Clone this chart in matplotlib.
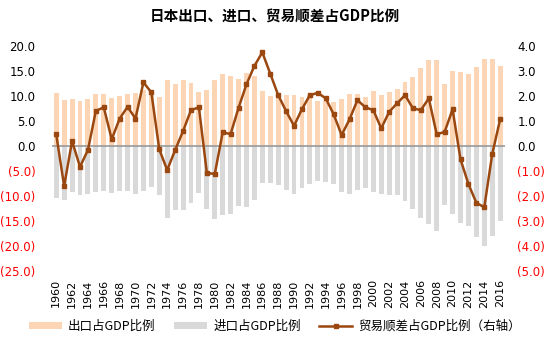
import matplotlib
matplotlib.use("Agg")
import matplotlib.pyplot as plt
import numpy as np
from matplotlib.lines import Line2D
from matplotlib.patches import Patch

plt.rcParams['font.family'] = ['Noto Sans CJK SC', 'DejaVu Sans']

years = list(range(1960, 2017))

# 出口占GDP比例 (%)
exports = [10.7, 9.2, 9.4, 9.0, 9.5, 10.5, 10.5, 9.7, 10.1, 10.5,
           10.6, 11.2, 10.3, 9.9, 13.2, 12.5, 13.2, 12.7, 10.8, 11.2,
           13.3, 14.4, 14.1, 13.5, 14.7, 14.0, 11.1, 10.0, 10.1, 10.2,
           10.2, 9.8, 10.2, 9.0, 9.1, 8.9, 9.4, 10.4, 10.5, 9.9,
           11.0, 10.2, 10.9, 11.5, 12.9, 13.9, 15.7, 17.3, 17.3, 12.4,
           15.0, 14.9, 14.5, 15.8, 17.5, 17.5, 16.0]

# 进口占GDP比例 (%), 负值
imports = [-10.3, -10.8, -9.1, -9.8, -9.6, -9.1, -8.9, -9.3, -8.9, -8.9,
           -9.5, -8.9, -8.1, -9.8, -14.3, -12.7, -12.7, -11.3, -9.3, -12.5,
           -14.5, -13.8, -13.6, -12.0, -12.1, -10.8, -7.3, -7.3, -7.7, -8.8,
           -9.5, -8.3, -7.6, -6.9, -7.1, -7.6, -9.1, -9.5, -8.7, -8.3,
           -9.1, -9.6, -9.8, -9.8, -10.9, -12.5, -14.3, -15.5, -16.9, -11.8,
           -13.5, -15.3, -16.0, -18.1, -20.0, -17.9, -15.0]

# 贸易顺差占GDP比例 (%), 右轴
balance = [0.47, -1.6, 0.2, -0.83, -0.16, 1.41, 1.55, 0.27, 1.1, 1.57,
           1.1, 2.55, 2.15, -0.13, -0.96, -0.16, 0.6, 1.44, 1.55, -1.07,
           -1.12, 0.55, 0.48, 1.53, 2.47, 3.21, 3.75, 2.9, 2.04, 1.4,
           0.81, 1.48, 2.04, 2.13, 1.91, 1.27, 0.44, 1.07, 1.84, 1.55,
           1.44, 0.71, 1.37, 1.71, 2.04, 1.51, 1.44, 1.91, 0.47, 0.57,
           1.47, -0.53, -1.52, -2.27, -2.45, -0.32, 1.07]

orange = '#FCD5B5'
grey = '#D9D9D9'
brown = '#9A4710'

fig = plt.figure(figsize=(5.5, 3.47), dpi=100)
ax = fig.add_axes([0.095, 0.219, 0.823, 0.648])
x = np.arange(len(years))

ax.bar(x, exports, width=0.62, color=orange, zorder=2)
ax.bar(x, imports, width=0.62, color=grey, zorder=2)
ax.axhline(0, color='#999999', lw=1.2, zorder=3)
ax.set_ylim(-25, 20)
ax.set_xlim(-0.5, len(years) - 0.4)

ax2 = ax.twinx()
ax2.plot(x, balance, color=brown, lw=1.8, marker='s', ms=3.5, zorder=5)
ax2.set_ylim(-5, 4)
ax2.set_position(ax.get_position())

def fmt(v):
    if v < 0:
        return '(%.1f)' % abs(v)
    return '%.1f' % v

lt = np.arange(-25, 21, 5)
ax.set_yticks(lt)
ax.set_yticklabels([fmt(v) for v in lt], family='DejaVu Sans', fontsize=8.5)
for t, v in zip(ax.get_yticklabels(), lt):
    t.set_color('#FF0000' if v < 0 else 'black')

rt = np.arange(-5, 5, 1)
ax2.set_yticks(rt)
ax2.set_yticklabels([fmt(v) for v in rt], family='DejaVu Sans', fontsize=8.5)
for t, v in zip(ax2.get_yticklabels(), rt):
    t.set_color('#FF0000' if v < 0 else 'black')

ax.set_xticks(x[::2])
ax.set_xticklabels([str(y) for y in years[::2]], rotation=90,
                   family='DejaVu Sans', fontsize=8)

ax.tick_params(axis='y', length=0, pad=12)
ax.tick_params(axis='x', length=0, pad=6)
ax2.tick_params(axis='y', length=0, pad=9)
for a in (ax, ax2):
    for s in a.spines.values():
        s.set_visible(False)

fig.text(0.5, 0.955, '日本出口、进口、贸易顺差占GDP比例', ha='center', va='center',
         fontsize=10.5, fontweight='bold')

handles = [Patch(facecolor=orange, edgecolor='none'),
           Patch(facecolor=grey, edgecolor='none'),
           Line2D([], [], color=brown, lw=1.8, marker='s', ms=3.5)]
labels = ['出口占GDP比例', '进口占GDP比例', '贸易顺差占GDP比例（右轴）']
fig.legend(handles, labels, loc='center', bbox_to_anchor=(0.5, 0.06), ncol=3,
           frameon=False, fontsize=9, handlelength=2.6, handleheight=0.45,
           columnspacing=1.5, handletextpad=0.5)

fig.savefig('out.png', dpi=100)
